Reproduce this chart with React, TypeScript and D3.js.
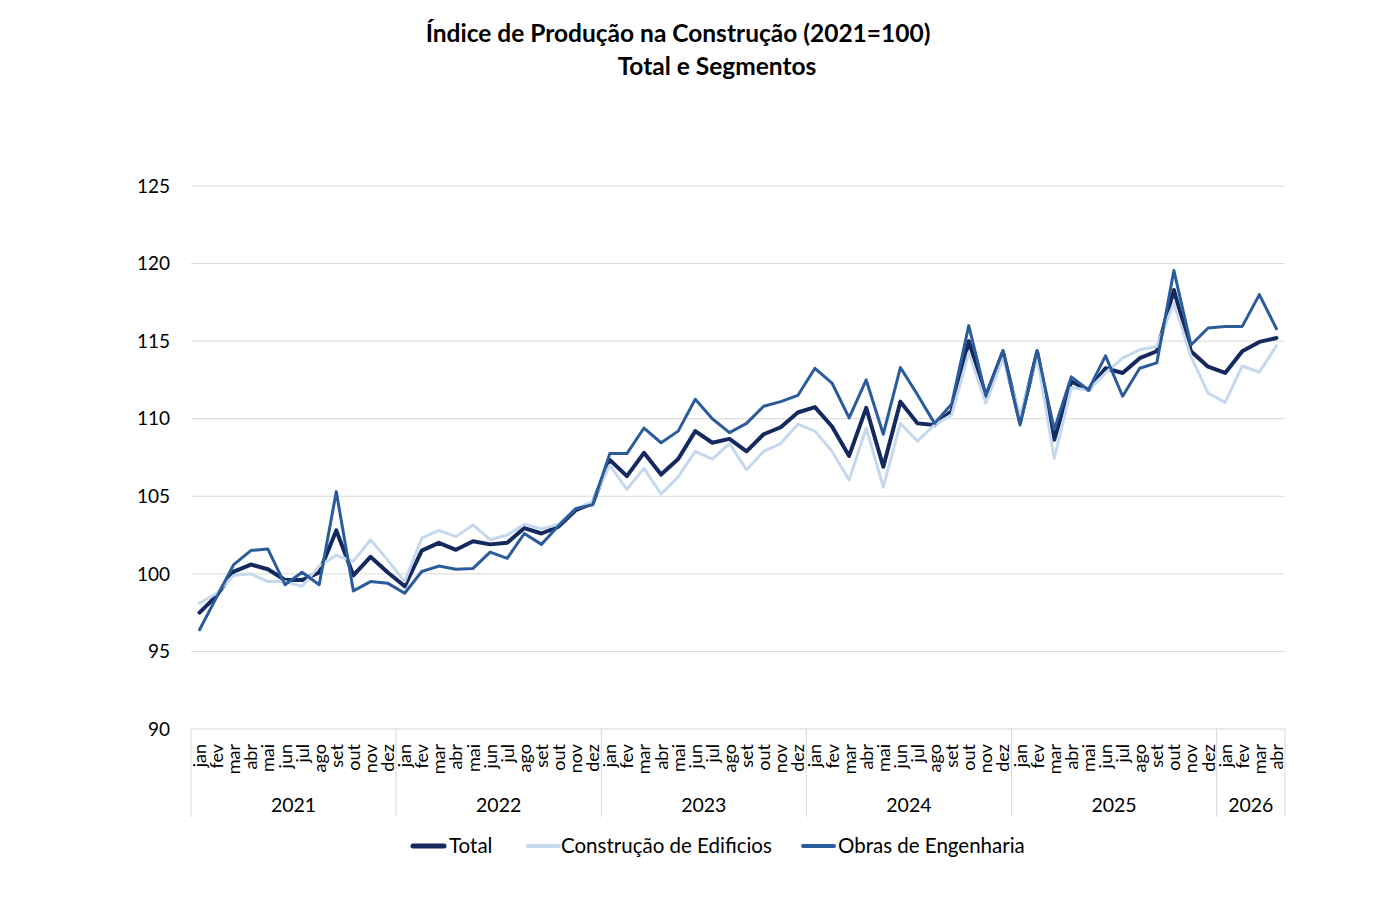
import React from "react";
import * as d3 from "d3";

const years = ["2021", "2022", "2023", "2024", "2025", "2026"];
const monthNames = ["jan", "fev", "mar", "abr", "mai", "jun", "jul", "ago", "set", "out", "nov", "dez"];
const monthsPerYear = [12, 12, 12, 12, 12, 4];

const total = [
  97.5, 98.6, 100.15, 100.6, 100.3, 99.6, 99.6, 100.1, 102.8, 99.9, 101.1, 100.1,
  99.2, 101.5, 102.0, 101.55, 102.1, 101.9, 102.0, 102.95, 102.6, 103.05, 104.1, 104.55,
  107.35, 106.3, 107.8, 106.4, 107.4, 109.2, 108.45, 108.7, 107.9, 109.0, 109.45, 110.4,
  110.75, 109.5, 107.6, 110.7, 106.9, 111.1, 109.7, 109.6, 110.5, 115.0, 111.45, 114.3,
  109.8, 114.3, 108.65, 112.4, 111.85, 113.25, 112.95, 113.9, 114.35, 118.3, 114.35, 113.35,
  112.95, 114.35, 114.95, 115.2,
];

const construcao = [
  98.1, 98.75, 99.9, 100.0, 99.5, 99.5, 99.2, 100.5, 101.2, 100.8, 102.2, 100.9,
  99.5, 102.3, 102.8, 102.4, 103.15, 102.2, 102.5, 103.2, 102.9, 103.2, 104.2, 104.65,
  107.0, 105.45, 106.8, 105.15, 106.25, 107.9, 107.4, 108.4, 106.7, 107.9, 108.4, 109.65,
  109.2, 107.9, 106.05, 109.4, 105.6, 109.7, 108.55, 109.6, 110.25, 114.25, 111.0, 113.9,
  110.2, 114.0, 107.45, 112.0, 111.85, 112.95, 113.9, 114.45, 114.65, 117.45, 114.0, 111.65,
  111.05, 113.4, 113.0, 114.7,
];

const obras = [
  96.4, 98.5, 100.6, 101.5, 101.6, 99.3, 100.1, 99.3, 105.3, 98.9, 99.5, 99.4,
  98.75, 100.15, 100.5, 100.3, 100.35, 101.4, 101.0, 102.6, 101.9, 103.1, 104.2, 104.45,
  107.75, 107.75, 109.4, 108.45, 109.2, 111.25, 110.0, 109.1, 109.7, 110.8, 111.1, 111.5,
  113.25, 112.3, 110.05, 112.5, 109.0, 113.3, 111.55, 109.7, 110.95, 116.0, 111.5, 114.4,
  109.6, 114.4, 109.3, 112.7, 111.85, 114.05, 111.45, 113.25, 113.6, 119.55, 114.75, 115.85,
  115.95, 115.95, 118.0, 115.8,
];

const yTicks = [90, 95, 100, 105, 110, 115, 120, 125];

const seriesDefs = [
  { name: "Total", values: total, color: "#14295e", width: 4 },
  { name: "Construção de Edificios", values: construcao, color: "#c6d8ed", width: 3 },
  { name: "Obras de Engenharia", values: obras, color: "#2a5c9b", width: 3 },
];

const FONT = "Lato, 'Open Sans', sans-serif";

export default function App() {
  const W = 1400, H = 902;
  const left = 191, right = 1285, top = 186, bottom = 729;

  const cats: { key: string; month: string; year: string }[] = [];
  years.forEach((y, yi) => {
    for (let m = 0; m < monthsPerYear[yi]; m++) cats.push({ key: `${y}-${m}`, month: monthNames[m], year: y });
  });

  const x = d3.scaleBand<string>().domain(cats.map((c) => c.key)).range([left, right]).padding(0);
  const y = d3.scaleLinear().domain([90, 125]).range([bottom, top]);
  const cx = (i: number) => (x(cats[i].key) as number) + x.bandwidth() / 2;

  const line = d3.line<number>().x((_, i) => cx(i)).y((v) => y(v));

  let idx = 0;
  const groups = years.map((yr, yi) => {
    const start = idx;
    idx += monthsPerYear[yi];
    const x0 = x(cats[start].key) as number;
    const x1 = (x(cats[idx - 1].key) as number) + x.bandwidth();
    return { yr, x0, x1 };
  });

  const legendItems = [
    { name: "Total", color: "#14295e", width: 4, lx: 413, tx: 449 },
    { name: "Construção de Edificios", color: "#c6d8ed", width: 3, lx: 528, tx: 561 },
    { name: "Obras de Engenharia", color: "#2a5c9b", width: 3, lx: 803, tx: 838 },
  ];

  return (
    <svg width={W} height={H} style={{ display: "block", position: "absolute", left: 0, top: 0 }} fontFamily={FONT}>
      <rect width={W} height={H} fill="#ffffff" />
      <text x={678} y={42} textAnchor="middle" fontSize={24.5} fontWeight="bold" fill="#000">
        Índice de Produção na Construção (2021=100)
      </text>
      <text x={717} y={75} textAnchor="middle" fontSize={24.5} fontWeight="bold" fill="#000">
        Total e Segmentos
      </text>

      {yTicks.map((t) => (
        <g key={t}>
          {t !== 90 && <line x1={left} x2={right} y1={y(t)} y2={y(t)} stroke="#d9d9d9" strokeWidth={1} />}
          <text x={170} y={y(t)} dy="0.35em" textAnchor="end" fontSize={19} fill="#000">
            {t}
          </text>
        </g>
      ))}
      <line x1={left} x2={right} y1={bottom} y2={bottom} stroke="#d9d9d9" strokeWidth={1} />

      {groups.map((g, i) => (
        <g key={g.yr}>
          {i === 0 && <line x1={g.x0} x2={g.x0} y1={bottom} y2={817} stroke="#d9d9d9" />}
          <line x1={g.x1} x2={g.x1} y1={bottom} y2={817} stroke="#d9d9d9" />
          <text x={(g.x0 + g.x1) / 2} y={812} textAnchor="middle" fontSize={19.5} fill="#000">
            {g.yr}
          </text>
        </g>
      ))}

      {cats.map((c, i) => (
        <text
          key={c.key}
          transform={`translate(${cx(i)},${bottom + 15}) rotate(-90)`}
          dy="0.36em"
          textAnchor="end"
          fontSize={18}
          fill="#000"
        >
          {c.month}
        </text>
      ))}

      {seriesDefs.map((s) => (
        <path
          key={s.name}
          d={line(s.values) as string}
          fill="none"
          stroke={s.color}
          strokeWidth={s.width}
          strokeLinejoin="round"
          strokeLinecap="round"
        />
      ))}

      {legendItems.map((l) => (
        <g key={l.name}>
          <line x1={l.lx} x2={l.lx + 31} y1={846} y2={846} stroke={l.color} strokeWidth={l.width + 1} strokeLinecap="round" />
          <text x={l.tx} y={846} dy="0.35em" fontSize={20.5} fill="#000">
            {l.name}
          </text>
        </g>
      ))}
    </svg>
  );
}
